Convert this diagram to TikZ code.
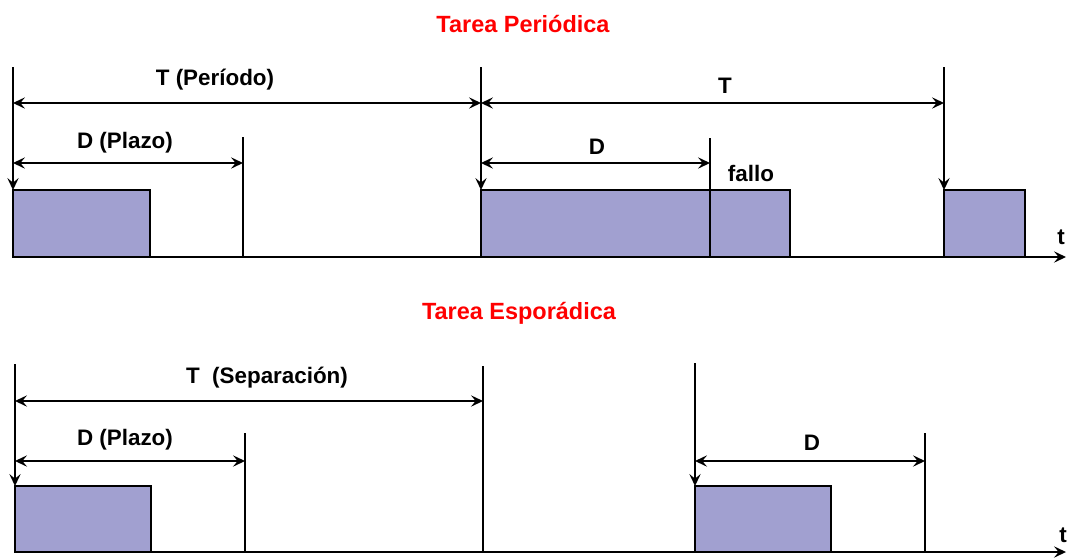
\documentclass[tikz,border=0pt]{standalone}
\usepackage{fontspec}
\setmainfont{Liberation Sans}
\usetikzlibrary{arrows.meta}
\definecolor{tarea}{RGB}{161,160,208}
\tikzset{
	lbl/.style={font=\bfseries\fontsize{16.8}{18}\selectfont, inner sep=0pt},
	titulo/.style={lbl, font=\bfseries\fontsize{17.6}{19}\selectfont, text=red},
	job/.style={draw, fill=tarea, line width=1.1pt},
	tip/.style={-{Stealth[length=9pt,width=8.5pt,inset=3.5pt]}},
	dtip/.style={{Stealth[length=9pt,width=8.5pt,inset=3.5pt]}-{Stealth[length=9pt,width=8.5pt,inset=3.5pt]}}
}

\begin{document}
\begin{tikzpicture}[x=0.75pt, y=-0.75pt, line width=1.1pt]
	\useasboundingbox (0,0) rectangle (1067,558);
	% periodic task
	\node[titulo] (tp) at (523,24) {Tarea Periódica};
	\coordinate (P1) at (13,67);
	\coordinate (P2) at (481,67);
	\coordinate (P3) at (944,67);
	\coordinate (R1) at (13,190);
	\coordinate (R2) at (481,190);
	\coordinate (R3) at (944,190);
	\coordinate (D1) at (243,137);
	\coordinate (D2) at (710,138);
	\draw[job] (R1) rectangle (150,257);
	\draw[job] (R2) rectangle (790,257);
	\draw[job] (R3) rectangle (1025,257);
	\draw[tip] (P1) -- (R1);
	\draw[tip] (P2) -- (R2);
	\draw[tip] (P3) -- (R3);
	\draw (D1) -- (243,257);
	\draw (D2) -- (710,257);
	\draw[tip] (13,257) -- (1066,257);
	\draw[dtip] (13,103) -- (P2 |- 0,103);
	\draw[dtip] (P2 |- 0,103) -- (P3 |- 0,103);
	\draw[dtip] (13,163) -- (D1 |- 0,163);
	\draw[dtip] (P2 |- 0,163) -- (D2 |- 0,163);
	\node[lbl] (Tper) at (215,80) {T (Período)};
	\node[lbl] (T2) at (725,86) {T};
	\node[lbl] (Dpla) at (125,143) {D (Plazo)};
	\node[lbl] (D2l) at (597,147) {D};
	\node[lbl] (fallo) at (751,173) {fallo};
	\node[lbl] (t1) at (1061,237) {t};
	% sporadic task
	\node[titulo] (te) at (519,313) {Tarea Esporádica};
	\coordinate (S1) at (15,364);
	\coordinate (S2) at (695,363);
	\coordinate (Q1) at (15,486);
	\coordinate (Q2) at (695,486);
	\coordinate (E1) at (245,433);
	\coordinate (E2) at (925,433);
	\coordinate (M1) at (483,366);
	\draw[job] (Q1) rectangle (151,552);
	\draw[job] (Q2) rectangle (831,552);
	\draw[tip] (S1) -- (Q1);
	\draw[tip] (S2) -- (Q2);
	\draw (E1) -- (245,552);
	\draw (E2) -- (925,552);
	\draw (M1) -- (483,552);
	\draw[tip] (15,552) -- (1066,552);
	\draw[dtip] (15,401) -- (M1 |- 0,401);
	\draw[dtip] (15,461) -- (E1 |- 0,461);
	\draw[dtip] (Q2 |- 0,461) -- (E2 |- 0,461);
	\node[lbl] (Tsep) at (267,378) {T \ (Separación)};
	\node[lbl] (Dpla2) at (125,440) {D (Plazo)};
	\node[lbl] (D3l) at (812,443) {D};
	\node[lbl] (t2) at (1063,535) {t};
\end{tikzpicture}
\end{document}
